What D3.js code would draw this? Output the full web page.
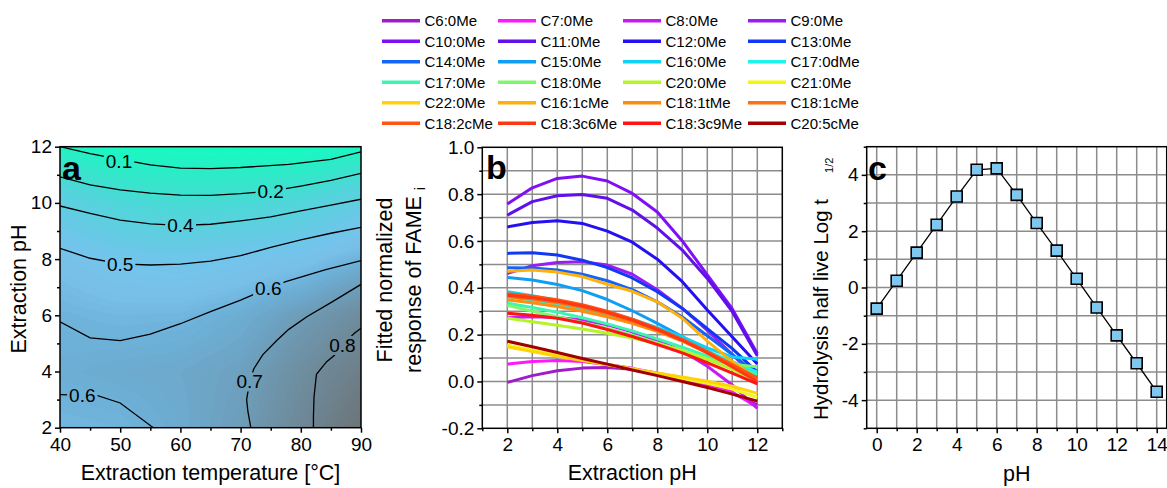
<!DOCTYPE html>
<html>
<head>
<meta charset="utf-8">
<script src="https://cdn.jsdelivr.net/npm/d3@7"></script>
<style>
  body { margin: 0; background: #fff; }
</style>
</head>
<body>
<script>
// ---------- panel a : response surface ----------
const tempGrid = [40, 50, 60, 70, 80, 90];
const phGrid = [2, 4, 6, 8, 10, 12];
// rows follow phGrid, columns follow tempGrid
const responseGrid = [
  [0.58, 0.59, 0.63, 0.69, 0.79, 0.90],
  [0.615, 0.63, 0.64, 0.67, 0.76, 0.84],
  [0.595, 0.58, 0.585, 0.62, 0.69, 0.77],
  [0.54, 0.49, 0.47, 0.50, 0.53, 0.60],
  [0.39, 0.29, 0.26, 0.27, 0.31, 0.41],
  [0.10, 0.05, 0.04, 0.03, 0.03, 0.08]
];
// contour lines, [temperature, pH]
const contour01 = [[40,12.0],[45,11.75],[50,11.55],[55,11.35],[60,11.24],[65,11.22],[70,11.26],[78,11.37],[85,11.55],[90,11.82]];
const contour02 = [[40,10.93],[45,10.64],[50,10.46],[55,10.35],[60,10.28],[65,10.27],[70,10.33],[75,10.42],[80,10.6],[85,10.8],[90,11.05]];
const contour04 = [[40,9.89],[45,9.63],[50,9.39],[55,9.25],[60,9.2],[65,9.24],[70,9.36],[75,9.5],[80,9.72],[85,9.92],[90,10.13]];
const contour05 = [[40,8.38],[45,8.03],[50,7.83],[55,7.79],[60,7.82],[65,7.93],[70,8.12],[75,8.42],[80,8.68],[85,8.92],[90,9.13]];
const contour06a = [[40,5.77],[45,5.2],[50,5.1],[55,5.33],[60,5.7],[65,6.13],[70,6.54],[74.6,6.96],[77.5,7.2],[84,7.62],[90,7.95]];
const contour06b = [[40,3.18],[43.7,3.16],[46,3.16],[50,2.88],[55.5,2.0]];
const contour07 = [[71.7,2.0],[71.2,2.6],[71.0,3.0],[71.5,3.64],[72.2,4.1],[73.7,4.6],[76,5.1],[78,5.5],[81,5.95],[85,6.45],[90,7.1]];
const contour08 = [[82.1,2.0],[82.1,2.4],[82.2,3.1],[82.6,3.9],[84.3,4.35],[85.6,4.58],[86.9,4.94],[88.9,5.36],[90,5.54]];
const contourLabels = [["0.1",49.8,11.5],["0.2",75,10.42],["0.4",60,9.2],["0.5",50,7.83],
                       ["0.6",74.6,6.96],["0.6",43.7,3.16],["0.7",71.5,3.64],["0.8",86.9,4.94]];

// ---------- panel b : fitted responses ----------
const extractionPH = [2, 3, 4, 5, 6, 7, 8, 9, 10, 11, 12];
const fameNames = [
  "C6:0Me","C7:0Me","C8:0Me","C9:0Me",
  "C10:0Me","C11:0Me","C12:0Me","C13:0Me",
  "C14:0Me","C15:0Me","C16:0Me","C17:0dMe",
  "C17:0Me","C18:0Me","C20:0Me","C21:0Me",
  "C22:0Me","C16:1cMe","C18:1tMe","C18:1cMe",
  "C18:2cMe","C18:3c6Me","C18:3c9Me","C20:5cMe"
];
const fameColors = [
  "#a01cc8","#ff18ff","#c51cf5","#9b1cf5",
  "#7f10f5","#6010e8","#2410f0","#1038f5",
  "#1464f5","#109ef5","#10d2f5","#1ef5e8",
  "#3cf5b0","#80f570","#b4f528","#f5f510",
  "#ffd20a","#ffb00a","#ff8c0a","#ff7010",
  "#ff5514","#ff3814","#ff1414","#a00000"
];
const fameValues = [
  [-0.004, 0.025, 0.046, 0.057, 0.060, 0.052, 0.035, 0.012, -0.018, -0.050, -0.100],
  [0.074, 0.085, 0.090, 0.085, 0.072, 0.056, 0.035, 0.013, -0.016, -0.045, -0.110],
  [0.272, 0.276, 0.273, 0.262, 0.242, 0.212, 0.175, 0.130, 0.065, -0.015, -0.115],
  [0.461, 0.494, 0.508, 0.511, 0.497, 0.458, 0.392, 0.312, 0.218, 0.115, 0.010],
  [0.758, 0.827, 0.867, 0.877, 0.856, 0.803, 0.724, 0.600, 0.455, 0.310, 0.120],
  [0.710, 0.768, 0.793, 0.798, 0.782, 0.732, 0.655, 0.561, 0.440, 0.298, 0.110],
  [0.660, 0.679, 0.686, 0.675, 0.642, 0.595, 0.522, 0.426, 0.305, 0.190, 0.075],
  [0.547, 0.550, 0.540, 0.518, 0.486, 0.442, 0.383, 0.312, 0.226, 0.140, 0.040],
  [0.486, 0.485, 0.476, 0.458, 0.430, 0.392, 0.340, 0.275, 0.195, 0.115, 0.030],
  [0.444, 0.433, 0.414, 0.388, 0.350, 0.302, 0.248, 0.192, 0.132, 0.072, 0.020],
  [0.383, 0.366, 0.346, 0.322, 0.296, 0.266, 0.230, 0.190, 0.143, 0.105, 0.095],
  [0.362, 0.348, 0.330, 0.306, 0.280, 0.250, 0.215, 0.175, 0.130, 0.085, 0.040],
  [0.334, 0.316, 0.296, 0.272, 0.246, 0.216, 0.182, 0.146, 0.108, 0.068, 0.030],
  [0.325, 0.300, 0.276, 0.252, 0.226, 0.198, 0.165, 0.130, 0.097, 0.073, 0.063],
  [0.270, 0.255, 0.240, 0.224, 0.206, 0.186, 0.162, 0.132, 0.095, 0.052, 0.000],
  [0.155, 0.133, 0.113, 0.093, 0.073, 0.053, 0.033, 0.013, -0.008, -0.032, -0.068],
  [0.148, 0.128, 0.108, 0.089, 0.071, 0.053, 0.036, 0.019, 0.001, -0.020, -0.051],
  [0.470, 0.476, 0.467, 0.448, 0.415, 0.385, 0.340, 0.270, 0.172, 0.085, 0.010],
  [0.348, 0.336, 0.320, 0.300, 0.276, 0.248, 0.214, 0.172, 0.122, 0.066, 0.005],
  [0.362, 0.352, 0.337, 0.316, 0.290, 0.258, 0.220, 0.176, 0.126, 0.070, 0.012],
  [0.375, 0.364, 0.349, 0.328, 0.300, 0.266, 0.226, 0.180, 0.128, 0.072, 0.015],
  [0.368, 0.358, 0.343, 0.322, 0.295, 0.262, 0.222, 0.176, 0.122, 0.062, 0.000],
  [0.291, 0.283, 0.270, 0.250, 0.222, 0.192, 0.158, 0.122, 0.080, 0.036, -0.010],
  [0.172, 0.148, 0.124, 0.098, 0.074, 0.049, 0.025, 0.000, -0.026, -0.054, -0.084]
];

// ---------- panel c : hydrolysis half life ----------
const phC = [0, 1, 2, 3, 4, 5, 6, 7, 8, 9, 10, 11, 12, 13, 14];
const logHalfLife = [-0.75, 0.24, 1.24, 2.23, 3.23, 4.18, 4.23, 3.29, 2.29, 1.31, 0.31, -0.71, -1.70, -2.69, -3.70];

// ------------------------------------------------
const W = 1167, H = 488;
const FONT = "'Liberation Sans', Arial, Helvetica, sans-serif";
const svg = d3.select("body").append("svg")
  .attr("width", W).attr("height", H)
  .attr("font-family", FONT);
const defs = svg.append("defs");

function styleAxis(s) {
  s.select(".domain").remove();
  s.attr("font-family", FONT).attr("font-size", 19);
  s.selectAll("line").attr("stroke", "#000").attr("stroke-width", 1.5);
  s.selectAll("text").attr("fill", "#000");
}
function axes(g, x, y, xMaj, xMin, yMaj, yMin, yFmt) {
  const x0 = x.range()[0], y0 = y.range()[0];
  g.append("g").attr("transform", `translate(0,${y0})`)
    .call(d3.axisBottom(x).tickValues(xMin).tickSize(3).tickFormat("")).call(styleAxis);
  g.append("g").attr("transform", `translate(0,${y0})`)
    .call(d3.axisBottom(x).tickValues(xMaj).tickSize(5).tickPadding(4.5).tickFormat(d => d)).call(styleAxis);
  g.append("g").attr("transform", `translate(${x0},0)`)
    .call(d3.axisLeft(y).tickValues(yMin).tickSize(3).tickFormat("")).call(styleAxis);
  g.append("g").attr("transform", `translate(${x0},0)`)
    .call(d3.axisLeft(y).tickValues(yMaj).tickSize(5).tickPadding(3).tickFormat(yFmt)).call(styleAxis);
}
function frame(g, x, y) {
  const [xa, xb] = x.range(), [ya, yb] = y.range();
  g.append("rect").attr("x", xa).attr("y", yb).attr("width", xb - xa).attr("height", ya - yb)
    .attr("fill", "none").attr("stroke", "#000").attr("stroke-width", 1.5);
}
function grid(g, x, y, xs, ys) {
  const [xa, xb] = x.range(), [ya, yb] = y.range();
  g.append("g").selectAll("line").data(xs).join("line")
    .attr("x1", d => x(d)).attr("x2", d => x(d)).attr("y1", ya).attr("y2", yb)
    .attr("stroke", "#8c8c8c").attr("stroke-width", 1.5);
  g.append("g").selectAll("line").data(ys).join("line")
    .attr("x1", xa).attr("x2", xb).attr("y1", d => y(d)).attr("y2", d => y(d))
    .attr("stroke", "#8c8c8c").attr("stroke-width", 1.5);
}
function letter(g, x, y, t) {
  g.append("text").attr("x", x).attr("y", y).attr("font-size", 34).attr("font-weight", "bold").text(t);
}

// ================= panel a =================
const ax = d3.scaleLinear().domain([40, 90]).range([60, 361]);
const ay = d3.scaleLinear().domain([2, 12]).range([427.7, 146.7]);
const ga = svg.append("g");

defs.append("clipPath").attr("id", "clipA").append("rect")
  .attr("x", 60).attr("y", 146.7).attr("width", 301).attr("height", 281);

function zAt(t, p) {
  const i = Math.min(tempGrid.length - 2, Math.max(0, d3.bisectRight(tempGrid, t) - 1));
  const j = Math.min(phGrid.length - 2, Math.max(0, d3.bisectRight(phGrid, p) - 1));
  const tx = (t - tempGrid[i]) / (tempGrid[i + 1] - tempGrid[i]);
  const ty = (p - phGrid[j]) / (phGrid[j + 1] - phGrid[j]);
  return responseGrid[j][i] * (1 - tx) * (1 - ty) + responseGrid[j][i + 1] * tx * (1 - ty)
       + responseGrid[j + 1][i] * (1 - tx) * ty + responseGrid[j + 1][i + 1] * tx * ty;
}
const nx = 151, ny = 113;
const field = new Array(nx * ny);
for (let j = 0; j < ny; j++) for (let i = 0; i < nx; i++) {
  field[j * nx + i] = zAt(40 + 50 * i / (nx - 1), 12 - 10 * j / (ny - 1));
}
const fillColor = d3.scaleLinear()
  .domain([0.0, 0.1, 0.2, 0.3, 0.4, 0.5, 0.55, 0.6, 0.65, 0.7, 0.8, 0.9])
  .range(["#10ffc0", "#22f2c4", "#38e4cc", "#50d6da", "#62cce2", "#74c4ec", "#78c0e8",
          "#6eb2da", "#6ca6c8", "#6e9ab4", "#6e8694", "#6c7476"])
  .clamp(true);
const bands = d3.contours().size([nx, ny]).thresholds(d3.range(-0.05, 1.0, 0.01))(field);
const gridToPx = d3.geoTransform({
  point(x, y) {
    this.stream.point(ax(40) + (x - 0.5) * (ax(90) - ax(40)) / (nx - 1),
                      ay(12) + (y - 0.5) * (ay(2) - ay(12)) / (ny - 1));
  }
});
ga.append("g").attr("clip-path", "url(#clipA)")
  .selectAll("path").data(bands).join("path")
  .attr("d", d3.geoPath(gridToPx))
  .attr("fill", d => fillColor(d.value + 0.005));

// label gaps via mask
const mask = defs.append("mask").attr("id", "labelGap")
  .attr("maskUnits", "userSpaceOnUse").attr("x", 0).attr("y", 0).attr("width", W).attr("height", H);
mask.append("rect").attr("width", W).attr("height", H).attr("fill", "white");

const contourLine = d3.line().x(d => ax(d[0])).y(d => ay(d[1]));
ga.append("g").attr("mask", "url(#labelGap)").attr("clip-path", "url(#clipA)")
  .selectAll("path")
  .data([contour01, contour02, contour04, contour05, contour06a, contour06b, contour07, contour08])
  .join("path")
  .attr("d", contourLine)
  .attr("fill", "none").attr("stroke", "#000").attr("stroke-width", 1.3);

const labels = ga.append("g").selectAll("text").data(contourLabels).join("text")
  .attr("x", d => ax(d[1])).attr("y", d => ay(d[2]))
  .attr("dy", "0.36em").attr("text-anchor", "middle").attr("font-size", 19)
  .text(d => d[0]);
labels.each(function () {
  const b = this.getBBox();
  mask.append("rect").attr("x", b.x - 2).attr("y", b.y + 1).attr("width", b.width + 4).attr("height", b.height - 2)
    .attr("fill", "black");
});

axes(ga, ax, ay, [40, 50, 60, 70, 80, 90], [45, 55, 65, 75, 85], [2, 4, 6, 8, 10, 12], [3, 5, 7, 9, 11], d => d);
frame(ga, ax, ay);
letter(ga, 62, 180, "a");
ga.append("text").attr("x", 210.5).attr("y", 480).attr("text-anchor", "middle").attr("font-size", 21.5)
  .text("Extraction temperature [°C]");
ga.append("text").attr("transform", "translate(25.5,289) rotate(-90)").attr("text-anchor", "middle")
  .attr("font-size", 21.5).text("Extraction pH");

// ================= panel b =================
const bx = d3.scaleLinear().domain([1, 13]).range([482.3, 782.3]);
const by = d3.scaleLinear().domain([-0.2, 1.0]).range([428.3, 147.3]);
const gb = svg.append("g");
grid(gb, bx, by, [2, 3, 4, 5, 6, 7, 8, 9, 10, 11, 12],
     [-0.1, 0, 0.1, 0.2, 0.3, 0.4, 0.5, 0.6, 0.7, 0.8, 0.9]);
const fameLine = d3.line().x((d, i) => bx(extractionPH[i])).y(d => by(d));
gb.append("g").selectAll("path").data(fameValues).join("path")
  .attr("d", fameLine)
  .attr("fill", "none")
  .attr("stroke", (d, i) => fameColors[i])
  .attr("stroke-width", 3).attr("stroke-linejoin", "round");
axes(gb, bx, by, [2, 4, 6, 8, 10, 12], [1, 3, 5, 7, 9, 11, 13],
     [-0.2, 0, 0.2, 0.4, 0.6, 0.8, 1.0], [-0.1, 0.1, 0.3, 0.5, 0.7, 0.9], d => d.toFixed(1));
frame(gb, bx, by);
letter(gb, 486, 178.5, "b");
gb.append("text").attr("x", 632.3).attr("y", 480).attr("text-anchor", "middle").attr("font-size", 21.5)
  .text("Extraction pH");
gb.append("text").attr("transform", "translate(392,280) rotate(-90)").attr("text-anchor", "middle")
  .attr("font-size", 21.5).text("Fitted normalized");
const yb2 = gb.append("text").attr("transform", "translate(421,280) rotate(-90)").attr("text-anchor", "middle")
  .attr("font-size", 21.5);
yb2.append("tspan").text("response of FAME ");
yb2.append("tspan").attr("font-size", 14).attr("dy", 4).text("i");

// legend
const legendColX = [382, 498, 623, 748];
const leg = svg.append("g");
fameNames.forEach((name, i) => {
  const lx = legendColX[i % 4], ly = 20.7 + Math.floor(i / 4) * 20.5;
  leg.append("line").attr("x1", lx).attr("x2", lx + 38).attr("y1", ly).attr("y2", ly)
    .attr("stroke", fameColors[i]).attr("stroke-width", 3.5);
  leg.append("text").attr("x", lx + 42.5).attr("y", ly + 5.4).attr("font-size", 15).text(name);
});

// ================= panel c =================
const cx = d3.scaleLinear().domain([-0.5, 14.5]).range([866.7, 1166.7]);
const cy = d3.scaleLinear().domain([-5, 5]).range([428.3, 146.7]);
const gc = svg.append("g");
grid(gc, cx, cy, phC, [-4, -3, -2, -1, 0, 1, 2, 3, 4]);
gc.append("path").datum(logHalfLife)
  .attr("d", d3.line().x((d, i) => cx(phC[i])).y(d => cy(d)))
  .attr("fill", "none").attr("stroke", "#000").attr("stroke-width", 1.3);
gc.append("g").selectAll("path").data(logHalfLife).join("path")
  .attr("transform", (d, i) => `translate(${cx(phC[i])},${cy(d)})`)
  .attr("d", d3.symbol(d3.symbolSquare, 121))
  .attr("fill", "#7fc7ef").attr("stroke", "#000").attr("stroke-width", 1.6);
axes(gc, cx, cy, [0, 2, 4, 6, 8, 10, 12, 14], [1, 3, 5, 7, 9, 11, 13],
     [-4, -2, 0, 2, 4], [-5, -3, -1, 1, 3, 5], d => d);
frame(gc, cx, cy);
letter(gc, 868, 180, "c");
gc.append("text").attr("x", 1016.7).attr("y", 481).attr("text-anchor", "middle").attr("font-size", 21.5)
  .text("pH");
const yc = gc.append("text").attr("transform", "translate(828,420) rotate(-90)").attr("font-size", 20.5);
yc.append("tspan").text("Hydrolysis half live Log t");
yc.append("tspan").attr("dx", 26).attr("dy", 5).attr("font-size", 11).text("1/2");
</script>
</body>
</html>
